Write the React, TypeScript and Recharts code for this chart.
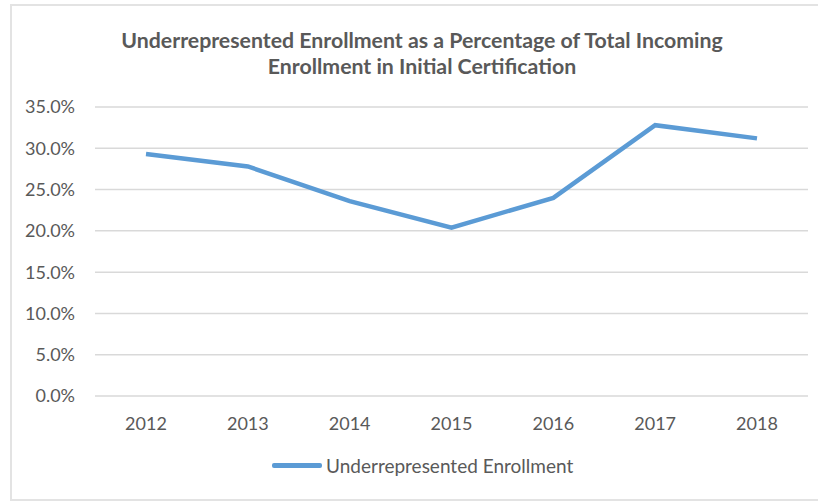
import React from "react";
import { LineChart, Line, XAxis, YAxis, CartesianGrid } from "recharts";

const years = ["2012", "2013", "2014", "2015", "2016", "2017", "2018"];
const enrollment = [0.293, 0.278, 0.236, 0.204, 0.24, 0.328, 0.312];
const yTicks = [0, 0.05, 0.1, 0.15, 0.2, 0.25, 0.3, 0.35];
const titleLines = [
  "Underrepresented Enrollment as a Percentage of Total Incoming",
  "Enrollment in Initial Certification",
];
const seriesName = "Underrepresented Enrollment";

const data = years.map((y, i) => ({ year: y, value: enrollment[i] }));

const FONT = "Lato, 'Open Sans', sans-serif";
const TEXT = "#595959";
const BLUE = "#5b9bd5";

export default function App() {
  return (
    <div
      style={{
        position: "absolute",
        left: 0,
        top: 0,
        width: 818,
        height: 501,
        background: "#fff",
        fontFamily: FONT,
        overflow: "hidden",
      }}
    >
      <div
        style={{
          position: "absolute",
          left: 10,
          top: 4,
          right: -4,
          bottom: 0,
          borderTop: "2px solid #e3e3e3",
          borderLeft: "2px solid #e3e3e3",
          borderBottom: "2px solid #e3e3e3",
        }}
      />
      <div
        style={{
          position: "absolute",
          left: 0,
          width: 844,
          top: 27,
          textAlign: "center",
          fontWeight: 700,
          fontSize: 21.3,
          lineHeight: "26px",
          color: TEXT,
        }}
      >
        {titleLines.map((t) => (
          <div key={t}>{t}</div>
        ))}
      </div>
      <div style={{ position: "absolute", left: 0, top: 0 }}>
        <LineChart
          width={818}
          height={501}
          data={data}
          margin={{ top: 107, right: 10, bottom: 75, left: 0 }}
        >
          <CartesianGrid vertical={false} stroke="#d9d9d9" strokeWidth={1.5} />
          <XAxis
            dataKey="year"
            axisLine={false}
            tickLine={false}
            tickMargin={15}
            height={30}
            padding={{ left: 51, right: 51 }}
            tick={{ fill: TEXT, fontSize: 18, fontFamily: FONT }}
          />
          <YAxis
            width={95}
            domain={[0, 0.35]}
            ticks={yTicks}
            axisLine={false}
            tickLine={false}
            tickMargin={14}
            interval={0}
            tickFormatter={(v: number) => (v * 100).toFixed(1) + "%"}
            tick={{ fill: TEXT, fontSize: 18, fontFamily: FONT }}
          />
          <Line
            type="linear"
            dataKey="value"
            name={seriesName}
            stroke={BLUE}
            strokeWidth={4.5}
            dot={false}
            activeDot={false}
            isAnimationActive={false}
          />
        </LineChart>
      </div>
      <div
        style={{
          position: "absolute",
          left: 272,
          top: 454,
          display: "flex",
          alignItems: "center",
          color: TEXT,
          fontSize: 19,
        }}
      >
        <div style={{ width: 50, height: 4.5, background: BLUE, borderRadius: 2, marginRight: 4 }} />
        <span>{seriesName}</span>
      </div>
    </div>
  );
}
